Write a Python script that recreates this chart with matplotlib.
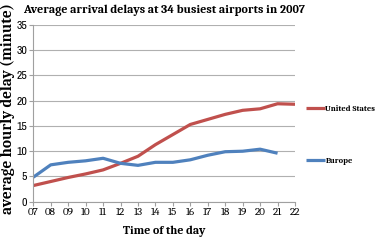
import matplotlib
matplotlib.use("Agg")
import matplotlib.pyplot as plt

hours = [7, 8, 9, 10, 11, 12, 13, 14, 15, 16, 17, 18, 19, 20, 21, 22]
hour_labels = ["07", "08", "09", "10", "11", "12", "13", "14", "15", "16", "17", "18", "19", "20", "21", "22"]
us_delay = [3.2, 4.0, 4.8, 5.5, 6.3, 7.6, 9.0, 11.3, 13.3, 15.3, 16.3, 17.3, 18.1, 18.4, 19.4, 19.3]
eu_hours = [7, 8, 9, 10, 11, 12, 13, 14, 15, 16, 17, 18, 19, 20, 21]
eu_delay = [4.85, 7.3, 7.8, 8.1, 8.6, 7.6, 7.2, 7.8, 7.8, 8.3, 9.2, 9.9, 10.0, 10.4, 9.6]
y_ticks = [0, 5, 10, 15, 20, 25, 30, 35]

serif = ["Caladea", "Liberation Serif", "DejaVu Serif"]
narrow = ["Archivo Narrow", "Liberation Sans Narrow", "DejaVu Sans"]

fig = plt.figure(figsize=(3.78, 2.41), dpi=100)
ax = fig.add_axes([33.3 / 378, 1 - 201.7 / 241, (295 - 33.3) / 378, (201.7 - 25) / 241])

ax.plot(hours, us_delay, color="#C0504D", lw=2.3, label="United States", solid_capstyle="butt")
ax.plot(eu_hours, eu_delay, color="#4F81BD", lw=2.3, label="Europe", solid_capstyle="butt")

ax.set_xlim(7, 22)
ax.set_ylim(0, 35)
ax.set_xticks(hours)
ax.set_xticklabels(hour_labels, family=serif, fontsize=8)
ax.set_yticks(y_ticks)
ax.set_yticklabels([str(v) for v in y_ticks], family=narrow, fontsize=8.5)
ax.yaxis.grid(True, color="#B0B0B0", lw=0.8)
ax.set_axisbelow(True)
for s in ["top", "right"]:
    ax.spines[s].set_visible(False)
for s in ["left", "bottom"]:
    ax.spines[s].set_color("#A0A0A0")
    ax.spines[s].set_linewidth(0.8)
ax.tick_params(axis="both", colors="#A0A0A0", labelcolor="black", length=3, width=0.8, pad=1.5)

fig.text((33.3 + 295) / 2 / 378, 1 - 231 / 241, "Time of the day", family=serif,
         fontweight="bold", fontsize=8.6, ha="center", va="center")
fig.text(8 / 378, 1 - 109 / 241, "average hourly delay (minute)", family=serif,
         fontweight="bold", fontsize=11, rotation=90, ha="center", va="center")
fig.text(23 / 378, 1 - 10 / 241, "Average arrival delays at 34 busiest airports in 2007",
         family=serif, fontweight="bold", fontsize=8.7, va="center", ha="left")

leg = ax.legend(loc="upper left", bbox_to_anchor=(1.03, 0.567), frameon=False,
                handlelength=2.2, handletextpad=0.1, labelspacing=5.35,
                prop={"family": serif, "weight": "bold", "size": 6}, borderaxespad=0)

fig.savefig("out.png", dpi=100)
